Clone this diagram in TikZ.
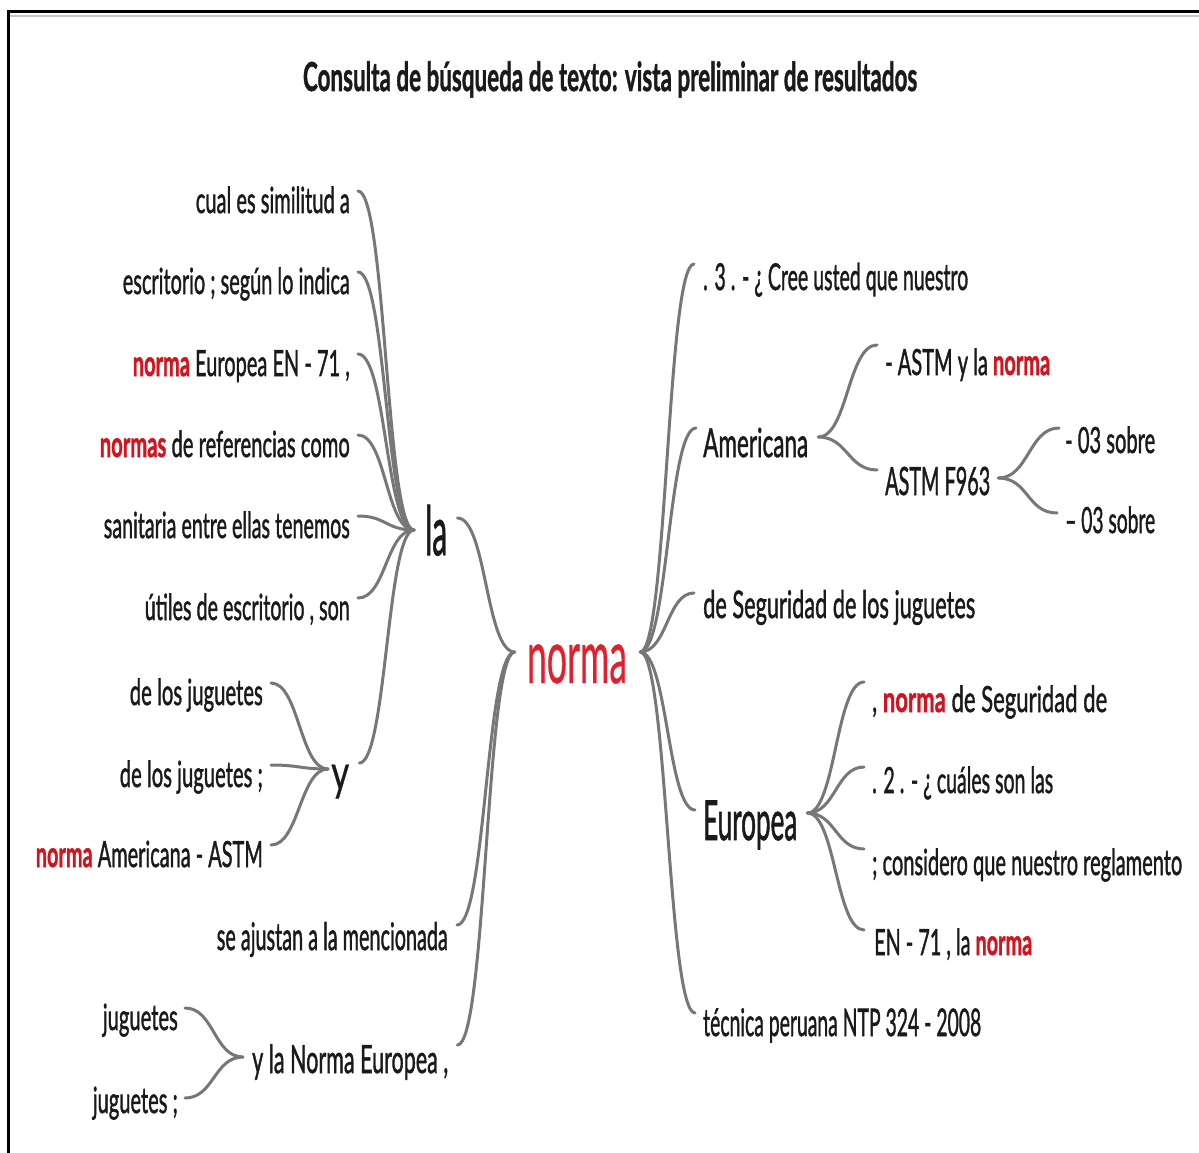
\documentclass[tikz,border=0pt]{standalone}
\usepackage{fontspec}
\setmainfont{Lato}[UprightFeatures={FakeBold=1.6}, BoldFeatures={FakeBold=1.4}]
\newfontfamily\plainfont{Lato}[UprightFeatures={FakeBold=0.6}]
\definecolor{txt}{HTML}{1A1A1A}
\definecolor{hl}{HTML}{D2141E}
\definecolor{cen}{HTML}{E0202C}
\definecolor{ln}{HTML}{777777}
\newcommand\fw[2]{\resizebox{#1pt}{\height}{#2}}
\newcommand\hi[1]{\textcolor{hl}{\bfseries #1}}
\begin{document}
\begin{tikzpicture}[x=1pt,y=-1pt,
  lbl/.style={inner sep=0pt, text=txt, font=\fontsize{36}{40}\selectfont},
  lft/.style={lbl, anchor=base east},
  rgt/.style={lbl, anchor=base west},
  conn/.style={draw=ln, line width=3pt, line cap=round}]
\fill[white] (0,0) rectangle (1199,1153);
\useasboundingbox (0,0) rectangle (1199,1153);
% frame
\draw[black!22, line width=1.5pt] (10,16) -- (1199,16);
\draw[black, line width=3pt] (8,1153) -- (8,12) -- (1199,12);
% title
\node[lbl, anchor=base, font=\fontsize{40}{44}\selectfont\bfseries] (title) at (610,91)
  {\fw{614}{Consulta de búsqueda de texto: vista preliminar de resultados}};
% centre
\node[lbl, anchor=base, text=cen, font=\plainfont\fontsize{75}{80}\selectfont] (norma) at (577,683) {\fw{100}{norma}};
% left branch "la"
\node[lbl, anchor=base west, font=\fontsize{68}{72}\selectfont] (la) at (425,555) {\fw{22}{la}};
\node[lft] (a1) at (350,213) {\fw{154}{cual es similitud a}};
\node[lft] (a2) at (350,294) {\fw{227}{escritorio ; según lo indica}};
\node[lft] (a3) at (350,376) {\fw{217}{\hi{norma} Europea EN - 71 ,}};
\node[lft] (a4) at (350,457) {\fw{250}{\hi{normas} de referencias como}};
\node[lft] (a5) at (350,538) {\fw{246}{sanitaria entre ellas tenemos}};
\node[lft] (a6) at (350,620) {\fw{205}{útiles de escritorio , son}};
% "y"
\node[lbl, anchor=base west, font=\plainfont\fontsize{50}{54}\selectfont] (y) at (331,790) {\fw{18}{y}};
\node[lft] (b1) at (263,705) {\fw{133}{de los juguetes}};
\node[lft] (b2) at (263,787) {\fw{143}{de los juguetes ;}};
\node[lft] (b3) at (263,867) {\fw{227}{\hi{norma} Americana - ASTM}};
% lower left
\node[lft, font=\fontsize{38}{42}\selectfont] (c1) at (448,950) {\fw{231}{se ajustan a la mencionada}};
\node[lbl, anchor=base west, font=\fontsize{39}{43}\selectfont] (c2) at (252,1073) {\fw{196}{y la Norma Europea ,}};
\node[lft] (d1) at (178,1030) {\fw{75}{juguetes}};
\node[lft] (d2) at (178,1113) {\fw{85}{juguetes ;}};
% right side
\node[rgt, font=\fontsize{37}{41}\selectfont] (r1) at (703,290) {\fw{265}{. 3 . - ¿ Cree usted que nuestro}};
\node[rgt, font=\fontsize{40}{44}\selectfont] (am) at (703,457) {\fw{105}{Americana}};
\node[rgt] (am1) at (885,375) {\fw{165}{- ASTM y la \hi{norma}}};
\node[rgt, font=\fontsize{39}{43}\selectfont] (astm) at (885,495) {\fw{105}{ASTM F963}};
\node[rgt] (as1) at (1065,453) {\fw{90}{- 03 sobre}};
\node[rgt] (as2) at (1065,533) {\fw{90}{– 03 sobre}};
\node[rgt, font=\fontsize{38}{42}\selectfont] (r3) at (703,618) {\fw{272}{de Seguridad de los juguetes}};
\node[rgt, font=\fontsize{55}{60}\selectfont] (eu) at (703,840) {\fw{94}{Europea}};
\node[rgt] (e1) at (872,712) {\fw{235}{, \hi{norma} de Seguridad de}};
\node[rgt] (e2) at (872,793) {\fw{181}{. 2 . - ¿ cuáles son las}};
\node[rgt] (e3) at (872,875) {\fw{310}{; considero que nuestro reglamento}};
\node[rgt] (e4) at (874,955) {\fw{158}{EN - 71 , la \hi{norma}}};
\node[rgt, font=\fontsize{38}{42}\selectfont] (r5) at (703,1036) {\fw{278}{técnica peruana NTP 324 - 2008}};
% hubs
\coordinate (hla) at ([shift={(-11,-25)}]la.base west);
\coordinate (hy)  at ([shift={(-3,-21)}]y.base west);
\coordinate (hc2) at ([shift={(-9,-16)}]c2.base west);
\coordinate (hnl) at ([shift={(-12,-31)}]norma.base west);
\coordinate (hnr) at ([shift={(13,-31)}]norma.base east);
\coordinate (ham) at ([shift={(10,-20)}]am.base east);
\coordinate (has) at ([shift={(8,-17)}]astm.base east);
\coordinate (heu) at ([shift={(10,-27)}]eu.base east);
% connectors left
\foreach \n in {a1,a2,a3,a4,a5,a6}
  \draw[conn] ([shift={(8,-22)}]\n.base east) .. controls +(28,0) and +(-28,0) .. (hla);
\draw[conn] ([shift={(10,-27)}]y.base east) .. controls +(27,0) and +(-27,0) .. (hla);
\foreach \n in {b1,b2,b3}
  \draw[conn] ([shift={(8,-22)}]\n.base east) .. controls +(28,0) and +(-28,0) .. (hy);
\draw[conn] ([shift={(10,-37)}]la.base east) .. controls +(29,0) and +(-29,0) .. (hnl);
\draw[conn] ([shift={(9,-25)}]c1.base east) .. controls +(29,0) and +(-29,0) .. (hnl);
\draw[conn] ([shift={(9,-28)}]c2.base east) .. controls +(29,0) and +(-29,0) .. (hnl);
\draw[conn] ([shift={(7,-22)}]d1.base east) .. controls +(29,0) and +(-29,0) .. (hc2);
\draw[conn] ([shift={(7,-15)}]d2.base east) .. controls +(29,0) and +(-29,0) .. (hc2);
% connectors right
\draw[conn] (hnr) .. controls +(27,0) and +(-27,0) .. ([shift={(-9,-26)}]r1.base west);
\draw[conn] (hnr) .. controls +(28,0) and +(-28,0) .. ([shift={(-7,-29)}]am.base west);
\draw[conn] (hnr) .. controls +(27,0) and +(-27,0) .. ([shift={(-9,-25)}]r3.base west);
\draw[conn] (hnr) .. controls +(27,0) and +(-27,0) .. ([shift={(-8,-30)}]eu.base west);
\draw[conn] (hnr) .. controls +(27,0) and +(-27,0) .. ([shift={(-8,-23)}]r5.base west);
\draw[conn] (ham) .. controls +(29,0) and +(-29,0) .. ([shift={(-8,-30)}]am1.base west);
\draw[conn] (ham) .. controls +(29,0) and +(-29,0) .. ([shift={(-8,-25)}]astm.base west);
\draw[conn] (has) .. controls +(30,0) and +(-30,0) .. ([shift={(-6,-25)}]as1.base west);
\draw[conn] (has) .. controls +(30,0) and +(-30,0) .. ([shift={(-8,-20)}]as2.base west);
\draw[conn] (heu) .. controls +(28,0) and +(-28,0) .. ([shift={(-8,-30)}]e1.base west);
\draw[conn] (heu) .. controls +(28,0) and +(-28,0) .. ([shift={(-8,-26)}]e2.base west);
\draw[conn] (heu) .. controls +(28,0) and +(-28,0) .. ([shift={(-8,-26)}]e3.base west);
\draw[conn] (heu) .. controls +(28,0) and +(-28,0) .. ([shift={(-10,-25)}]e4.base west);
\end{tikzpicture}
\end{document}
